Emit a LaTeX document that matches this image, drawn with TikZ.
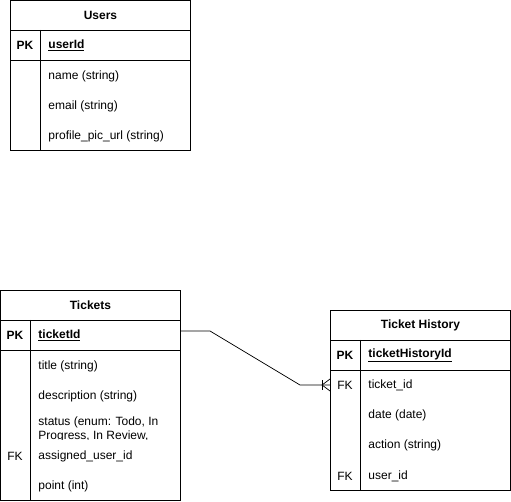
\documentclass[tikz,border=0pt]{standalone}
\usepackage{fontspec}
\setmainfont{Liberation Sans}
\usetikzlibrary{calc}
\begin{document}
\begin{tikzpicture}[x=1pt,y=-1pt,line width=0.9pt,
  cell/.style={draw,minimum width=180pt,inner sep=0pt,anchor=north west},
  title/.style={font=\fontsize{12}{14}\selectfont\bfseries},
  keytag/.style={font=\fontsize{12}{14}\selectfont,inner sep=0pt},
  field/.style={anchor=west,inner sep=0pt,font=\fontsize{12}{14}\selectfont},
  pkfield/.style={anchor=west,inner sep=0pt,font=\fontsize{12}{14}\selectfont\bfseries}]
\useasboundingbox (0,0) rectangle (511,502);

% Users table
\node[cell,minimum height=30pt,title] (uhead) at (10,0) {Users};
\node[cell,minimum height=30pt] (upk) at (10,30) {};
\node[cell,minimum height=90pt] (ubody) at (10,60) {};
\draw ($(upk.north west)+(30,0)$) -- ($(ubody.south west)+(30,0)$);
\node[keytag,font=\fontsize{12}{14}\selectfont\bfseries] (upkt) at (25,45) {PK};
\node[pkfield] (uid) at (48,45) {\underline{userId}};
\node[field] (uname) at (48,76) {name (string)};
\node[field] (umail) at (48,106) {email (string)};
\node[field] (upic) at (48,136) {profile\_pic\_url (string)};

% Tickets table
\node[cell,minimum height=30pt,title] (thead) at (0,290) {Tickets};
\node[cell,minimum height=30pt] (tpk) at (0,320) {};
\node[cell,minimum height=150pt] (tbody) at (0,350) {};
\draw ($(tpk.north west)+(30,0)$) -- ($(tbody.south west)+(30,0)$);
\node[keytag,font=\fontsize{12}{14}\selectfont\bfseries] (tpkt) at (15,335) {PK};
\node[pkfield] (tid) at (38,335) {\underline{ticketId}};
\node[field] (ttitle) at (38,366) {title (string)};
\node[field] (tdesc) at (38,396) {description (string)};
\begin{scope}
  \clip (31,410) rectangle (180,439.5);
  \node[field,anchor=north west,align=left] (tstatus) at (38,416.5)
    {status (enum: Todo, In\\[-0.5pt]Progress, In Review,};
\end{scope}
\node[keytag] (tfk) at (15,456) {FK};
\node[field] (tuser) at (38,456) {assigned\_user\_id};
\node[field] (tpoint) at (38,486) {point (int)};

% Ticket History table
\node[cell,minimum height=30pt,title] (hhead) at (330,310) {Ticket History};
\node[cell,minimum height=30pt] (hpk) at (330,340) {};
\node[cell,minimum height=120pt] (hbody) at (330,370) {};
\draw ($(hpk.north west)+(30,0)$) -- ($(hbody.south west)+(30,0)$);
\node[keytag,font=\fontsize{12}{14}\selectfont\bfseries] (hpkt) at (345,355) {PK};
\node[pkfield] (hid) at (368,355) {\underline{ticketHistoryId}};
\node[keytag] (hfk1) at (345,385) {FK};
\node[field] (htid) at (368,385) {ticket\_id};
\node[field] (hdate) at (368,415) {date (date)};
\node[field] (hact) at (368,445) {action (string)};
\node[keytag] (hfk2) at (345,476) {FK};
\node[field] (huid) at (368,476) {user\_id};

% Relationship: one ticket to many history entries
\coordinate (bend1) at (210,331);
\coordinate (bend2) at (300,385);
\coordinate (hend) at (hbody.west |- htid);
\draw[line width=0.7pt] (tpk.east |- bend1) -- (bend1) -- (bend2) -- (hend);
\draw[line width=0.7pt] ($(hend)+(-8,-5)$) -- ($(hend)+(-8,5)$);
\draw[line width=0.7pt] ($(hend)+(0,-6)$) -- ($(hend)+(-8,0)$) -- ($(hend)+(0,6)$);
\end{tikzpicture}
\end{document}
